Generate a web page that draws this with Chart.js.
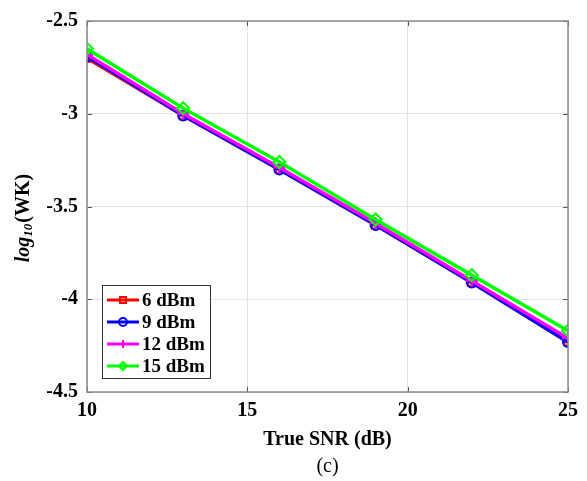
<!DOCTYPE html>
<html>
<head>
<meta charset="utf-8">
<script src="https://cdn.jsdelivr.net/npm/chart.js@4/dist/chart.umd.min.js"></script>
<style>
  html, body { margin: 0; padding: 0; background: #fff; }
  #wrap { width: 587px; height: 481px; }
</style>
</head>
<body>
<div id="wrap"><canvas id="wk-chart" width="587" height="481"></canvas></div>
<script>
const snrValues = [10, 13, 16, 19, 22, 25];
const wk6dBm  = [-2.70, -3.01, -3.30, -3.60, -3.91, -4.23];
const wk9dBm  = [-2.69, -3.01, -3.30, -3.60, -3.91, -4.23];
const wk12dBm = [-2.68, -3.00, -3.29, -3.59, -3.90, -4.21];
const wk15dBm = [-2.65, -2.97, -3.26, -3.57, -3.87, -4.17];
const seriesLabels = ['6 dBm', '9 dBm', '12 dBm', '15 dBm'];
const xTicks = [10, 15, 20, 25];
const yTicks = [-2.5, -3, -3.5, -4, -4.5];

const serif = "'Liberation Serif', 'Times New Roman', serif";

function toPoints(values) {
    return values.map((v, i) => ({ x: snrValues[i], y: v }));
}

function makeDataset(label, values, color, style, radius, order) {
    return {
        label: label,
        data: toPoints(values),
        borderColor: color,
        backgroundColor: color,
        borderWidth: 3.5,
        pointStyle: style,
        pointRadius: radius,
        pointBorderWidth: 2,
        pointBackgroundColor: 'rgba(0,0,0,0)',
        pointBorderColor: color,
        order: order
    };
}

// marker shapes for the legend, same look as the plotted points
function drawMarker(ctx, style, x, y, r, color) {
    ctx.save();
    ctx.strokeStyle = color;
    ctx.lineWidth = 2;
    ctx.beginPath();
    if (style === 'rect') {
        ctx.rect(x - r * 0.75, y - r * 0.75, r * 1.5, r * 1.5);
    } else if (style === 'circle') {
        ctx.arc(x, y, r, 0, Math.PI * 2);
    } else if (style === 'cross') {
        ctx.moveTo(x - r, y); ctx.lineTo(x + r, y);
        ctx.moveTo(x, y - r); ctx.lineTo(x, y + r);
    } else if (style === 'rectRot') {
        ctx.moveTo(x, y - r); ctx.lineTo(x + r, y);
        ctx.lineTo(x, y + r); ctx.lineTo(x - r, y);
        ctx.closePath();
    }
    ctx.stroke();
    ctx.restore();
}

const frameAndLabels = {
    id: 'frameAndLabels',
    afterDraw(chart) {
        const ctx = chart.ctx;
        const area = chart.chartArea;
        const xs = chart.scales.x;
        const ys = chart.scales.y;

        // inward tick marks on all four sides
        ctx.save();
        ctx.strokeStyle = '#555';
        ctx.lineWidth = 1;
        ctx.beginPath();
        xTicks.forEach(t => {
            const px = Math.round(xs.getPixelForValue(t)) + 0.5;
            ctx.moveTo(px, area.bottom); ctx.lineTo(px, area.bottom - 5);
            ctx.moveTo(px, area.top); ctx.lineTo(px, area.top + 5);
        });
        yTicks.forEach(t => {
            const py = Math.round(ys.getPixelForValue(t)) + 0.5;
            ctx.moveTo(area.left, py); ctx.lineTo(area.left + 5, py);
            ctx.moveTo(area.right, py); ctx.lineTo(area.right - 5, py);
        });
        ctx.stroke();

        // axes box
        ctx.strokeStyle = '#8a8a8a';
        ctx.lineWidth = 1.5;
        ctx.strokeRect(area.left, area.top, area.right - area.left, area.bottom - area.top);
        ctx.restore();

        // y axis title: log_10(WK), rotated
        ctx.save();
        ctx.translate(24, 218);
        ctx.rotate(-Math.PI / 2);
        ctx.fillStyle = '#000';
        ctx.textBaseline = 'middle';
        const mainFont = 'italic bold 20px ' + serif;
        const subFont = 'italic bold 13px ' + serif;
        const upFont = 'bold 20px ' + serif;
        ctx.font = mainFont;
        const wLog = ctx.measureText('log').width;
        ctx.font = subFont;
        const wSub = ctx.measureText('10').width;
        ctx.font = upFont;
        const wRest = ctx.measureText('(WK)').width;
        let tx = -(wLog + wSub + wRest + 1) / 2;
        ctx.textAlign = 'left';
        ctx.font = mainFont;
        ctx.fillText('log', tx, 0);
        tx += wLog;
        ctx.font = subFont;
        ctx.fillText('10', tx, 5);
        tx += wSub + 1;
        ctx.font = upFont;
        ctx.fillText('(WK)', tx, 0);
        ctx.restore();

        // panel caption
        ctx.save();
        ctx.font = '20px ' + serif;
        ctx.fillStyle = '#000';
        ctx.textAlign = 'center';
        ctx.textBaseline = 'middle';
        ctx.fillText('(c)', (area.left + area.right) / 2, 467);
        ctx.restore();

        // legend box in the lower left corner
        const lx = area.left + 15;
        const ly = 285;
        const lw = 108;
        const lh = 93;
        ctx.save();
        ctx.fillStyle = '#fff';
        ctx.fillRect(lx, ly, lw, lh);
        ctx.strokeStyle = '#333';
        ctx.lineWidth = 1;
        ctx.strokeRect(lx + 0.5, ly + 0.5, lw, lh);
        ctx.font = 'bold 19px ' + serif;
        ctx.textAlign = 'left';
        ctx.textBaseline = 'middle';
        chart.data.datasets.forEach((ds, i) => {
            const cy = ly + 15 + i * 22;
            ctx.strokeStyle = ds.borderColor;
            ctx.lineWidth = 3;
            ctx.beginPath();
            ctx.moveTo(lx + 5, cy);
            ctx.lineTo(lx + 37, cy);
            ctx.stroke();
            drawMarker(ctx, ds.pointStyle, lx + 21, cy, 4, ds.borderColor);
            ctx.fillStyle = '#000';
            ctx.fillText(ds.label, lx + 40, cy + 1);
        });
        ctx.restore();
    }
};

const ctx = document.getElementById('wk-chart').getContext('2d');
const wkChart = new Chart(ctx, {
    type: 'line',
    data: {
        datasets: [
            makeDataset(seriesLabels[0], wk6dBm, '#ff0000', 'rect', 5, 3),
            makeDataset(seriesLabels[1], wk9dBm, '#0000ff', 'circle', 5, 2),
            makeDataset(seriesLabels[2], wk12dBm, '#ff00ff', 'cross', 6, 1),
            makeDataset(seriesLabels[3], wk15dBm, '#00ff00', 'rectRot', 6, 0)
        ]
    },
    options: {
        responsive: false,
        animation: false,
        devicePixelRatio: 1,
        layout: {
            padding: { top: 15, right: 19, left: 0, bottom: 0 }
        },
        plugins: {
            legend: { display: false },
            tooltip: { enabled: false }
        },
        scales: {
            x: {
                type: 'linear',
                min: 10,
                max: 25,
                afterBuildTicks: (scale) => {
                    scale.ticks = xTicks.map(v => ({ value: v }));
                },
                afterFit: (scale) => { scale.height = 89; },
                grid: { color: '#e3e3e3', lineWidth: 1, drawTicks: false },
                border: { display: false },
                ticks: {
                    padding: 7,
                    color: '#000',
                    font: { family: serif, size: 20, weight: 'bold' },
                    maxRotation: 0
                },
                title: {
                    display: true,
                    text: 'True SNR (dB)',
                    color: '#000',
                    font: { family: serif, size: 20, weight: 'bold' },
                    padding: { top: 0, bottom: 29 }
                }
            },
            y: {
                min: -4.5,
                max: -2.5,
                afterBuildTicks: (scale) => {
                    scale.ticks = yTicks.map(v => ({ value: v }));
                },
                afterFit: (scale) => { scale.width = 87; },
                grid: { color: '#e3e3e3', lineWidth: 1, drawTicks: false },
                border: { display: false },
                ticks: {
                    padding: 9,
                    color: '#000',
                    font: { family: serif, size: 20, weight: 'bold' },
                    callback: (v) => String(v)
                }
            }
        }
    },
    plugins: [frameAndLabels]
});
</script>
</body>
</html>
